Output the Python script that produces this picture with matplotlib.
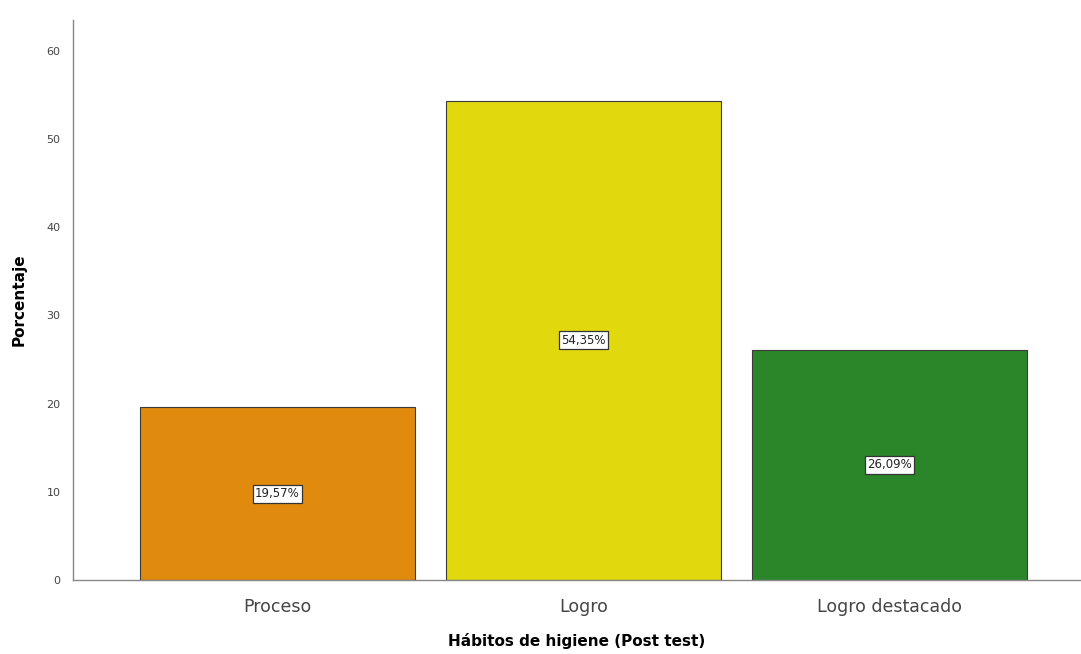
import matplotlib.pyplot as plt

categories = ["Proceso", "Logro", "Logro destacado"]
percentages = [19.57, 54.35, 26.09]
colors = ["#E08A0E", "#E2D80E", "#2A8629"]
y_ticks = [0, 10, 20, 30, 40, 50, 60]


def main():
    fig = plt.figure(figsize=(10.81, 6.54), dpi=100)
    ax = fig.add_axes([73 / 1081, 74 / 654, 1008 / 1081, 560 / 654])

    x = range(len(categories))
    ax.bar(x, percentages, width=0.9, color=colors, edgecolor="#3a3a3a", linewidth=0.8)

    for xi, val in zip(x, percentages):
        label = f"{val:.2f}%".replace(".", ",")
        ax.text(xi, val / 2, label, ha="center", va="center", fontsize=8.5, color="#222222",
                bbox=dict(boxstyle="square,pad=0.2", facecolor="white", edgecolor="#333333", linewidth=0.9))

    ax.set_xlim(-0.668, 2.626)
    ax.set_ylim(0, 63.5)
    ax.set_yticks(y_ticks)
    ax.set_xticks(list(x))
    ax.set_xticklabels(categories, fontsize=12.5, color="#444444")
    ax.tick_params(axis="y", length=0, labelsize=8, colors="#444444", pad=9)
    ax.tick_params(axis="x", length=0, pad=13)

    for side in ["top", "right"]:
        ax.spines[side].set_visible(False)
    for side in ["left", "bottom"]:
        ax.spines[side].set_color("#888888")
        ax.spines[side].set_linewidth(1.0)

    ax.set_ylabel("Porcentaje", fontsize=11, fontweight="bold", labelpad=14)
    ax.set_xlabel("Hábitos de higiene (Post test)", fontsize=11, fontweight="bold", labelpad=12)

    fig.savefig("out.png", dpi=100)
    plt.close(fig)


if __name__ == "__main__":
    main()
